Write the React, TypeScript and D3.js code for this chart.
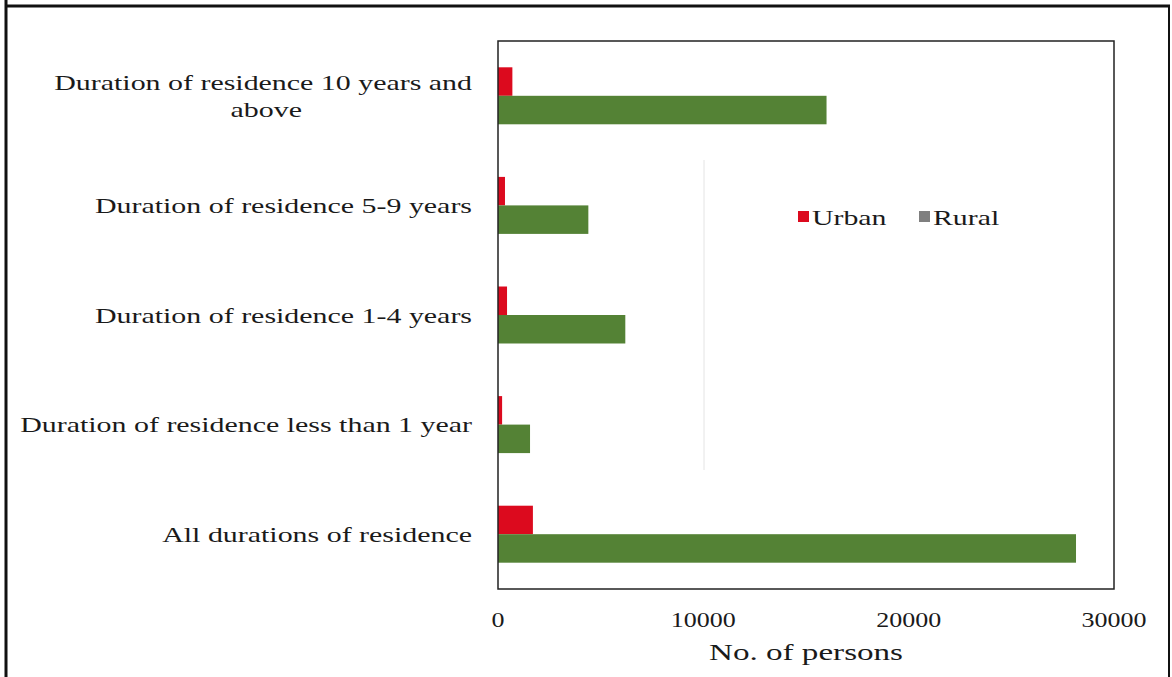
import * as d3 from 'd3'

// categories, top to bottom
const categories = [
  'Duration of residence 10 years and above',
  'Duration of residence 5-9 years',
  'Duration of residence 1-4 years',
  'Duration of residence less than 1 year',
  'All durations of residence',
]
// wrapped label lines, as printed
const categoryLines = [
  ['Duration of residence 10 years and', 'above'],
  ['Duration of residence 5-9 years'],
  ['Duration of residence 1-4 years'],
  ['Duration of residence less than 1 year'],
  ['All durations of residence'],
]
const seriesNames = ['Urban', 'Rural']
const urbanValues = [700, 340, 440, 200, 1700]
const ruralValues = [16000, 4400, 6200, 1560, 28150]
const xTicks = [0, 10000, 20000, 30000]

const W = 1172
const H = 677
const font = '"Liberation Serif", "Times New Roman", serif'
const stretch = 1.36 // the scanned text is wide, so stretch it horizontally

export default function App() {
  const plot = { left: 498, right: 1114, top: 41, bottom: 589 }

  const x = d3.scaleLinear().domain([0, 30000]).range([plot.left, plot.right])
  const y = d3.scaleBand<string>()
    .domain(categories)
    .range([plot.top, plot.bottom])
    .paddingInner(0.48)
    .paddingOuter(0.24)
  const inner = d3.scaleBand<string>()
    .domain(seriesNames)
    .range([0, y.bandwidth()])
  const color = d3.scaleOrdinal<string, string>()
    .domain(seriesNames)
    .range(['#dc0a1e', '#548235'])
  // legend swatch for Rural is grey in the original
  const legendColor = d3.scaleOrdinal<string, string>()
    .domain(seriesNames)
    .range(['#dc0a1e', '#7f7f7f'])

  const values: Record<string, number[]> = { Urban: urbanValues, Rural: ruralValues }

  return (
    <div style={{ position: 'absolute', left: 0, top: 0 }}>
      <svg width={W} height={H} style={{ display: 'block', background: '#fff' }} fontFamily={font}>
        {/* outer frame */}
        <line x1={6} y1={0} x2={6} y2={H} stroke="#111" strokeWidth={3} />
        <line x1={5} y1={6} x2={1170} y2={6} stroke="#111" strokeWidth={3} />
        <line x1={1169} y1={6} x2={1169} y2={H} stroke="#111" strokeWidth={2} />

        {/* faint scan artefact line */}
        <line x1={704} y1={160} x2={704} y2={470} stroke="#e4e4e4" strokeWidth={1} />

        {/* bars */}
        {categories.map((c, i) => (
          <g key={c} transform={`translate(0,${y(c)})`}>
            {seriesNames.map(s => (
              <rect
                key={s}
                x={x(0)}
                y={inner(s)}
                width={x(values[s][i]) - x(0)}
                height={inner.bandwidth()}
                fill={color(s)}
              />
            ))}
          </g>
        ))}

        {/* plot border */}
        <rect
          x={plot.left}
          y={plot.top}
          width={plot.right - plot.left}
          height={plot.bottom - plot.top}
          fill="none"
          stroke="#222"
          strokeWidth={1.5}
        />

        {/* category labels */}
        {categories.map((c, i) => {
          const lines = categoryLines[i]
          const cy = (y(c) ?? 0) + y.bandwidth() / 2
          const lh = 27
          const y0 = cy - ((lines.length - 1) * lh) / 2
          const firstWidth = lines[0].length * 8.9
          return (
            <g key={c} transform={`translate(472,0) scale(${stretch},1)`}>
              {lines.map((ln, j) => (
                <text
                  key={j}
                  x={j === 0 ? 0 : -firstWidth / 2}
                  y={y0 + j * lh}
                  dy="0.35em"
                  fontSize={22}
                  fill="#1a1a1a"
                  textAnchor={j === 0 ? 'end' : 'middle'}
                >
                  {ln}
                </text>
              ))}
            </g>
          )
        })}

        {/* x tick labels */}
        {xTicks.map(t => (
          <g key={t} transform={`translate(${x(t)},627) scale(1.3,1)`}>
            <text textAnchor="middle" fontSize={20} fill="#1a1a1a">{t}</text>
          </g>
        ))}

        {/* x axis title */}
        <g transform={`translate(${(plot.left + plot.right) / 2},660) scale(1.38,1)`}>
          <text textAnchor="middle" fontSize={24} fill="#1a1a1a">No. of persons</text>
        </g>

        {/* legend */}
        {seriesNames.map((s, i) => {
          const lx = 798 + i * 121
          return (
            <g key={s}>
              <rect x={lx} y={211} width={11} height={11} fill={legendColor(s)} />
              <g transform={`translate(${lx + 14},225) scale(1.42,1)`}>
                <text fontSize={21} fill="#1a1a1a">{s}</text>
              </g>
            </g>
          )
        })}
      </svg>
    </div>
  )
}
